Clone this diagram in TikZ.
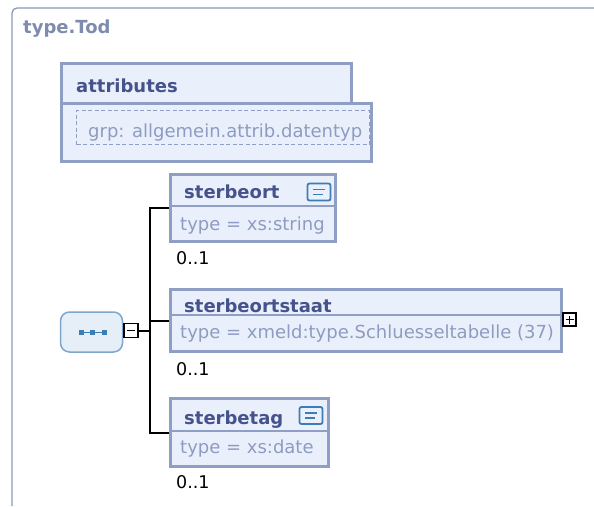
\documentclass[tikz,border=0pt]{standalone}
\usepackage{fontspec}
\setmainfont{DejaVu Sans}
\usetikzlibrary{positioning}

\definecolor{rahmen}{HTML}{8F9EC4}
\definecolor{fuellung}{HTML}{EAF0FB}
\definecolor{kopftext}{HTML}{45528C}
\definecolor{typtext}{HTML}{8E9BC2}
\definecolor{titel}{HTML}{7D8BAF}
\definecolor{seqrand}{HTML}{80A6CC}
\definecolor{seqfuell}{HTML}{E6EEF8}
\definecolor{symbol}{HTML}{3C7DB4}

\tikzset{
  elem/.style={draw=rahmen, fill=fuellung, line width=3pt, inner sep=0pt},
  kopf/.style={font=\fontsize{18}{21}\selectfont\bfseries, text=kopftext, inner sep=0pt, anchor=base west},
  typ/.style={font=\fontsize{18}{21}\selectfont, text=typtext, inner sep=0pt, anchor=base west},
  anzahl/.style={font=\fontsize{17.5}{21}\selectfont, text=black, inner sep=0pt, anchor=base west},
  doku/.style={draw=symbol, fill=fuellung, line width=1.8pt, rounded corners=2pt, minimum width=23pt, minimum height=17pt, inner sep=0pt},
  knopf/.style={draw=black, fill=white, line width=1.2pt, minimum size=14pt, inner sep=0pt},
  verb/.style={draw=black, line width=2pt}
}

\begin{document}
\begin{tikzpicture}[x=1pt, y=-1pt]
  \useasboundingbox (0,0) rectangle (594,506);
  % frame of the complex type
  \draw[titel!90, line width=1.3pt, rounded corners=5pt] (12,506) -- (12,8) -- (594,8);
  \node[kopf, text=titel] (titel) at (23,33) {type.Tod};

  % attributes
  \node[elem, minimum width=290pt, minimum height=40pt] (attrkopf) at (206.5,83) {};
  \node[elem, minimum width=310pt, minimum height=58pt] (attrbody) at (216.5,132) {};
  \node[draw=rahmen, line width=1pt, dash pattern=on 4pt off 2.5pt, minimum width=293pt, minimum height=34pt] (grp) at (223,127.5) {};
  \node[kopf] (attrname) at (76,92) {attributes};
  \node[typ] (grpname) at (88,137) {grp: allgemein.attrib.datentyp};

  % sequence
  \node[draw=seqrand, fill=seqfuell, line width=1.5pt, rounded corners=9pt, minimum width=62pt, minimum height=40pt] (seq) at (91.5,332) {};
  \draw[symbol, line width=1pt] (81,332) -- (104,332);
  \foreach \sx in {81,92.5,104}
    \fill[symbol] (\sx-2.5,329.5) rectangle (\sx+2.5,334.5);
  \node[knopf] (minus) at (131,330.5) {};
  \draw[line width=1.2pt] ([xshift=-4pt]minus.center) -- ([xshift=4pt]minus.center);
  \coordinate (knick) at (150,330.5);

  % elements
  \node[elem, minimum width=165pt, minimum height=67pt] (sterbeort) at (253,208) {};
  \draw[rahmen, line width=2pt] (sterbeort.west |- 0,206) -- (sterbeort.east |- 0,206);
  \node[kopf] (sterbeort-name) at (184,198) {sterbeort};
  \node[doku] (sterbeort-doku) at (319,192) {};
  \draw[symbol, line width=1.5pt] (313,189.5) -- (325,189.5) (313,194.5) -- (323,194.5);
  \node[typ] (sterbeort-typ) at (180,230) {type = xs:string};
  \node[anzahl] (sterbeort-anz) at (176,264) {0..1};

  \node[elem, minimum width=391pt, minimum height=62pt] (staat) at (366,320.5) {};
  \draw[rahmen, line width=2pt] (staat.west |- 0,315) -- (staat.east |- 0,315);
  \node[kopf] (staat-name) at (184,312) {sterbeortstaat};
  \node[typ] (staat-typ) at (180,338) {type = xmeld:type.Schluesseltabelle (37)};
  \node[anzahl] (staat-anz) at (176,375) {0..1};
  \node[knopf, minimum size=13pt] (plus) at (569.5,319.5) {};
  \draw[line width=1.2pt] ([xshift=-4pt]plus.center) -- ([xshift=4pt]plus.center)
    ([yshift=-4pt]plus.center) -- ([yshift=4pt]plus.center);

  \node[elem, minimum width=158pt, minimum height=68pt] (tag) at (249.5,432.5) {};
  \draw[rahmen, line width=2pt] (tag.west |- 0,431) -- (tag.east |- 0,431);
  \node[kopf] (tag-name) at (184,424) {sterbetag};
  \node[doku] (tag-doku) at (311,415.5) {};
  \draw[symbol, line width=1.5pt] (305,413) -- (317,413) (305,418) -- (315,418);
  \node[typ] (tag-typ) at (180,453) {type = xs:date};
  \node[anzahl] (tag-anz) at (176,488) {0..1};

  % connectors
  \draw[verb] (minus.east) -- (knick);
  \draw[verb] (sterbeort.west) -| (knick) |- (tag.west);
  \draw[verb] (knick |- staat.west) -- (staat.west);
\end{tikzpicture}
\end{document}
